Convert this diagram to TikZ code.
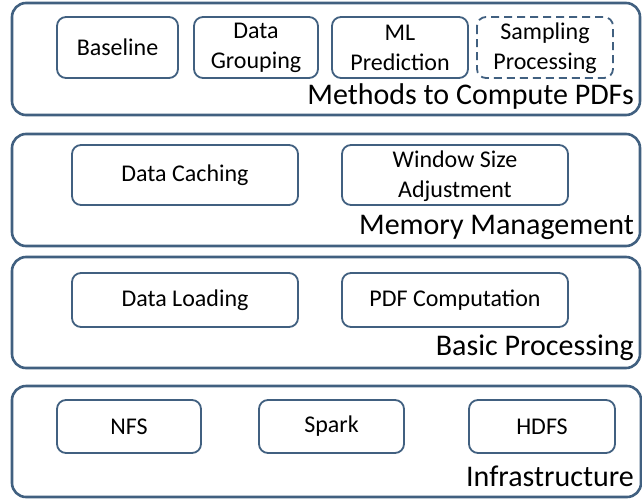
\documentclass[tikz,border=0pt]{standalone}
\usepackage{fontspec}
\setmainfont{Carlito}
\begin{document}
\begin{tikzpicture}[x=1pt,y=-1pt,
  layerbox/.style={draw=boxblue,line width=2.6pt,rounded corners=14pt},
  itembox/.style={draw=boxblue,line width=1.8pt,rounded corners=9pt,fill=white},
  itemtext/.style={font=\fontsize{24}{30}\selectfont,align=center,text=black,inner sep=0pt},
  layertext/.style={font=\fontsize{30}{34}\selectfont,anchor=east,text=black,inner sep=0pt}]
\definecolor{boxblue}{RGB}{65,96,128}
\useasboundingbox (0,0) rectangle (642,501);
% layers
\draw[layerbox] (12,3) rectangle (640,115);
\draw[layerbox] (12,134) rectangle (640,246);
\draw[layerbox] (12,257) rectangle (640,368);
\draw[layerbox] (12,386) rectangle (641,497);
% row 1
\draw[itembox] (57,17) rectangle (178,78);
\node[itemtext] (baseline) at (117.5,47.5) {Baseline};
\draw[itembox] (194,17) rectangle (318,78);
\node[itemtext] (grouping) at (256,48) {Data\\Grouping};
\draw[itembox] (332,17) rectangle (468,78);
\node[itemtext] (ml) at (400,48) {ML\\Prediction};
\draw[itembox,dashed,dash pattern=on 8pt off 5pt] (477,17) rectangle (613,78);
\node[itemtext] (sampling) at (545,48) {Sampling\\Processing};
\node[layertext] (methods) at (634,96) {Methods to Compute PDFs};
% row 2
\draw[itembox] (72,145) rectangle (298,205);
\node[itemtext] (caching) at (185,175) {Data Caching};
\draw[itembox] (342,145) rectangle (568,205);
\node[itemtext] (window) at (455,176) {Window Size\\Adjustment};
\node[layertext] (memory) at (634,227) {Memory Management};
% row 3
\draw[itembox] (72,273) rectangle (298,327);
\node[itemtext] (loading) at (185,300) {Data Loading};
\draw[itembox] (342,273) rectangle (568,327);
\node[itemtext] (pdfcomp) at (455,300) {PDF Computation};
\node[layertext] (basic) at (634,348) {Basic Processing};
% row 4
\draw[itembox] (57,400) rectangle (201,453);
\node[itemtext] (nfs) at (129,426.5) {NFS};
\draw[itembox] (259,400) rectangle (404,453);
\node[itemtext] (spark) at (331.5,426.5) {Spark};
\draw[itembox] (469,400) rectangle (615,453);
\node[itemtext] (hdfs) at (542,426.5) {HDFS};
\node[layertext] (infra) at (634,476) {Infrastructure};
\end{tikzpicture}
\end{document}
